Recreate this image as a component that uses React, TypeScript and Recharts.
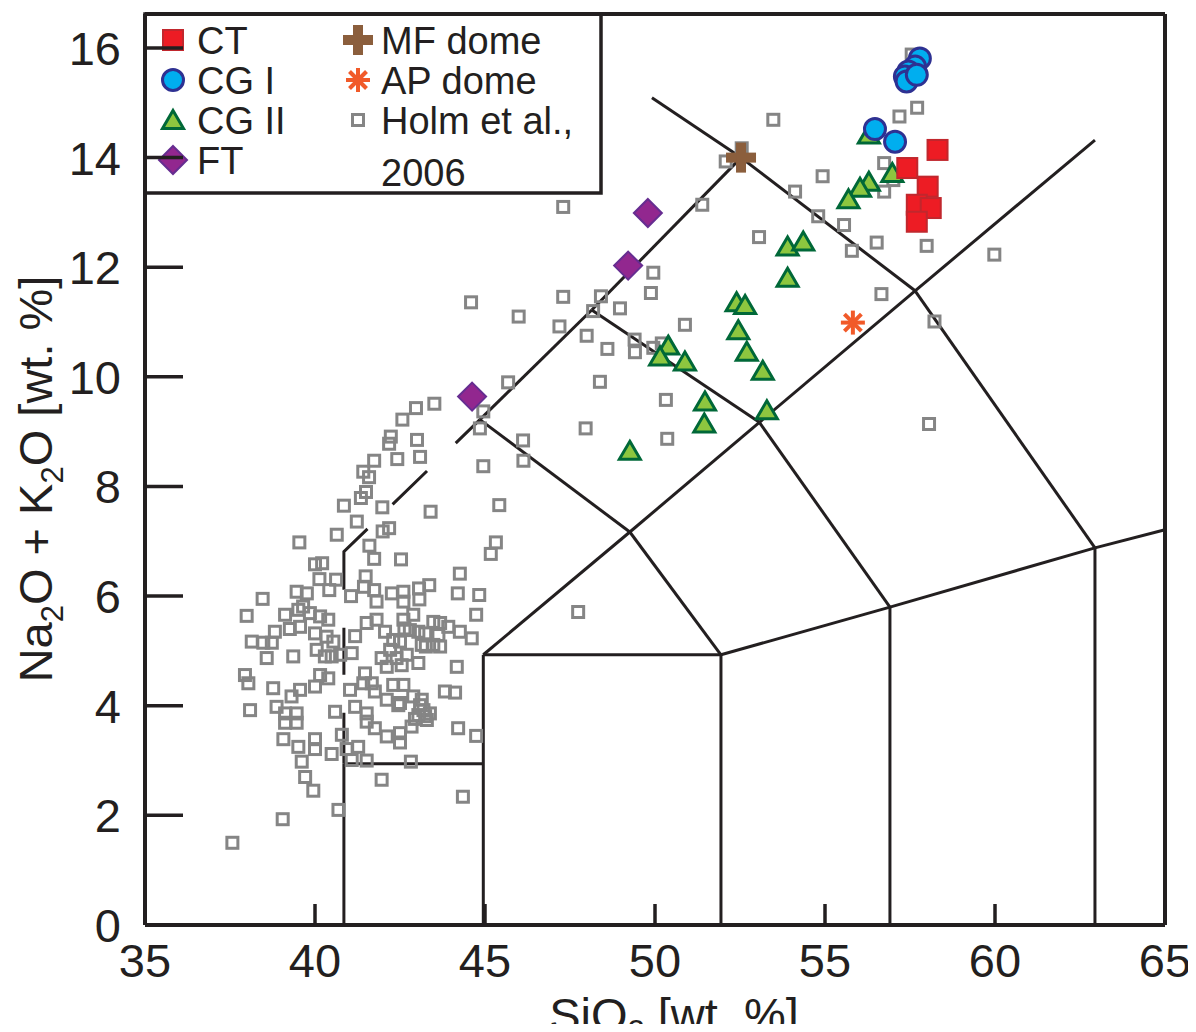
import React from 'react';
import { ScatterChart, Scatter, XAxis, YAxis, ReferenceLine, Customized } from 'recharts';

type P = [number, number];

// ---------- data ----------
const xTicks = [35, 40, 45, 50, 55, 60, 65];
const yTicks = [0, 2, 4, 6, 8, 10, 12, 14, 16];

const ctPts: P[] = [[58.31, 14.14], [57.42, 13.81], [58.02, 13.47], [57.70, 13.14], [58.11, 13.08], [57.70, 12.83]];
const cg1Pts: P[] = [[57.79, 15.81], [57.65, 15.66], [57.45, 15.57], [57.35, 15.48], [57.40, 15.39], [57.70, 15.51], [56.47, 14.52], [57.06, 14.29]];
const cg2Pts: P[] = [
  [56.29, 14.42], [56.98, 13.72], [56.29, 13.56], [56.03, 13.45], [55.69, 13.24], [53.90, 12.38], [54.36, 12.47],
  [53.90, 11.81], [52.40, 11.36], [52.65, 11.31], [52.45, 10.85], [52.70, 10.46], [53.17, 10.11], [50.39, 10.57],
  [50.15, 10.37], [50.88, 10.28], [51.47, 9.55], [51.45, 9.15], [53.29, 9.39], [49.26, 8.65],
];
const ftPts: P[] = [[49.79, 12.99], [49.21, 12.03], [44.62, 9.64]];
const mfPts: P[] = [[52.53, 14.0]];
const apPts: P[] = [[55.82, 10.99]];
const holmPts: P[] = [
  [57.55, 15.88], [57.71, 14.91], [57.19, 14.75], [53.48, 14.69], [52.55, 14.17], [52.08, 13.93], [56.74, 13.90],
  [57.01, 13.59], [54.93, 13.66], [54.12, 13.38], [56.74, 13.38], [51.39, 13.14], [47.30, 13.10], [54.80, 12.93],
  [55.56, 12.77], [53.06, 12.55], [56.52, 12.45], [57.99, 12.39], [55.79, 12.30], [59.98, 12.23], [49.95, 11.90],
  [49.88, 11.53], [48.97, 11.25], [56.66, 11.51], [50.88, 10.95], [58.22, 11.01], [49.40, 10.68], [48.60, 10.51],
  [49.41, 10.45], [49.95, 10.53], [50.20, 10.61], [50.32, 9.58], [50.36, 8.87], [58.06, 9.14], [47.30, 11.46],
  [48.41, 11.47], [48.18, 11.20], [47.19, 10.92], [47.99, 10.75], [45.99, 11.10], [44.59, 11.36], [48.38, 9.91],
  [45.68, 9.90], [44.95, 9.37], [44.85, 9.06], [47.96, 9.06], [46.12, 8.84], [44.95, 8.37], [46.13, 8.47],
  [43.51, 9.51], [42.97, 9.43], [43.00, 8.85], [43.09, 8.54], [42.57, 9.22], [42.23, 8.91], [42.18, 8.78],
  [42.42, 8.50], [41.74, 8.47], [41.42, 8.27], [41.59, 8.17], [41.50, 7.90], [41.35, 7.79], [40.85, 7.65],
  [41.98, 7.62], [41.23, 7.36], [40.64, 7.12], [42.18, 7.24], [41.99, 7.18], [41.60, 6.92], [41.74, 6.68],
  [42.53, 6.67], [39.54, 6.98], [45.42, 7.66], [45.32, 6.98], [45.17, 6.77], [43.40, 7.54], [47.74, 5.71],
  [44.35, 2.34],
  [40.00, 6.58], [40.21, 6.60], [40.13, 6.31], [40.62, 6.30], [40.42, 6.11], [41.49, 6.36], [41.44, 6.17],
  [41.74, 6.11], [41.06, 6.00], [42.26, 6.05], [42.60, 6.08], [43.06, 6.14], [43.36, 6.20], [44.26, 6.41],
  [44.20, 6.05], [44.83, 6.02], [39.46, 6.08], [39.76, 6.05], [38.46, 5.95], [41.81, 5.90], [42.60, 5.90],
  [43.07, 5.94], [44.74, 5.66], [37.99, 5.64], [39.51, 5.75], [39.12, 5.66], [39.65, 5.81], [39.85, 5.69],
  [40.15, 5.63], [40.39, 5.57], [38.82, 5.35], [39.26, 5.40], [39.56, 5.44], [40.00, 5.32], [40.34, 5.26],
  [40.54, 5.17], [38.14, 5.17], [38.48, 5.15], [38.73, 5.15], [38.58, 4.87], [39.36, 4.90], [40.05, 5.02],
  [40.29, 4.90], [40.49, 4.90], [41.08, 4.96], [41.18, 5.27], [41.52, 5.51], [41.81, 5.57], [42.06, 5.35],
  [42.30, 5.20], [42.50, 5.17], [42.21, 5.02], [41.96, 4.87], [42.40, 4.87], [42.70, 4.93], [42.55, 4.74],
  [42.11, 4.71], [43.04, 4.78], [42.60, 5.57], [42.89, 5.66], [42.79, 5.38], [43.24, 5.32], [43.48, 5.11],
  [43.68, 5.51], [43.92, 5.44], [43.63, 5.29], [43.68, 5.08], [44.26, 5.35], [44.61, 5.23], [44.17, 4.71],
  [38.04, 4.41], [37.94, 4.56], [38.77, 4.32], [39.31, 4.17], [39.56, 4.29], [40.00, 4.35], [40.15, 4.56],
  [40.39, 4.50], [41.03, 4.29], [41.47, 4.59], [41.42, 4.41], [41.67, 4.41], [41.76, 4.26], [42.30, 4.38],
  [42.60, 4.38], [42.11, 4.11], [42.50, 4.05], [42.89, 4.17], [43.14, 4.11], [43.19, 3.92], [43.82, 4.26],
  [44.12, 4.24], [38.09, 3.92], [38.87, 3.98], [39.12, 3.86], [39.46, 3.86], [40.59, 3.89], [41.18, 3.98],
  [41.52, 3.86], [39.12, 3.69], [39.46, 3.69], [41.52, 3.71], [41.76, 3.59], [42.11, 3.44], [42.45, 4.01],
  [42.50, 3.50], [42.50, 3.33], [42.84, 3.62], [43.04, 3.83], [43.29, 3.74], [43.38, 3.86], [44.21, 3.59],
  [44.74, 3.45], [39.07, 3.39], [39.51, 3.25], [40.00, 3.39], [40.00, 3.21], [40.49, 3.12], [40.79, 3.47],
  [40.93, 3.21], [41.27, 3.25], [41.08, 3.01], [41.52, 3.00], [39.61, 2.98], [39.71, 2.70], [39.95, 2.45],
  [41.96, 2.65], [42.82, 2.98], [40.69, 2.10], [39.05, 1.93], [37.57, 1.50], [40.74, 4.93], [42.63, 5.41],
  [43.04, 5.35], [43.14, 5.11], [43.48, 5.53], [43.26, 5.08], [43.09, 4.01], [43.24, 3.81], [42.94, 3.76],
];

// TAS field boundaries (solid), as pairs of end points
const boundarySegs: [P, P][] = [
  [[40.85, 0], [40.85, 2.94]],
  [[40.85, 2.94], [44.95, 2.94]],
  [[44.95, 0], [44.95, 4.93]],
  [[44.95, 4.93], [51.94, 4.93]],
  [[51.94, 0], [51.94, 4.93]],
  [[51.94, 4.93], [56.91, 5.80]],
  [[56.91, 0], [56.91, 5.80]],
  [[56.91, 5.80], [62.94, 6.88]],
  [[62.94, 0], [62.94, 6.88]],
  [[62.94, 6.88], [65, 7.21]],
  [[44.95, 4.93], [49.26, 7.17]],
  [[49.26, 7.17], [53.07, 9.17]],
  [[53.07, 9.17], [57.65, 11.57]],
  [[57.65, 11.57], [62.94, 14.32]],
  [[49.26, 7.17], [51.94, 4.93]],
  [[53.07, 9.17], [56.91, 5.80]],
  [[57.65, 11.57], [62.94, 6.88]],
  [[49.26, 7.17], [44.85, 9.22]],
  [[44.85, 9.22], [48.14, 11.22]],
  [[48.14, 11.22], [52.53, 14.0]],
  [[48.14, 11.22], [53.07, 9.17]],
  [[52.53, 14.0], [57.65, 11.57]],
  [[52.53, 14.0], [49.91, 15.09]],
];
// dashed foidite/picrobasalt boundary
const dashedPath: P[] = [[40.85, 2.94], [40.85, 6.81], [44.85, 9.22]];

const toXY = (pts: P[]) => pts.map(([x, y]) => ({ x, y }));

// ---------- style ----------
const W = 1196;
const H = 1032;
const FONT = '"Liberation Sans", Arial, Helvetica, sans-serif';
const INK = '#231f20';
const Y_MAX = 16.62;

// ---------- marker shapes ----------
const drawHolm = (cx: number, cy: number) => (
  <rect x={cx - 5.5} y={cy - 5.5} width={11} height={11} fill="none" stroke="#858585" strokeWidth={3} />
);
const drawCT = (cx: number, cy: number) => (
  <rect x={cx - 10} y={cy - 10} width={20} height={20} fill="#ed1c24" stroke="#c1272d" strokeWidth={2} />
);
const drawCG1 = (cx: number, cy: number) => (
  <circle cx={cx} cy={cy} r={10.5} fill="#00aeef" stroke="#2e3192" strokeWidth={3} />
);
const drawCG2 = (cx: number, cy: number) => (
  <path d={`M${cx},${cy - 9.5}L${cx + 10.5},${cy + 8.5}L${cx - 10.5},${cy + 8.5}Z`} fill="#8dc63f" stroke="#006838" strokeWidth={3} strokeLinejoin="miter" />
);
const drawFT = (cx: number, cy: number) => (
  <path d={`M${cx},${cy - 14}L${cx + 14},${cy}L${cx},${cy + 14}L${cx - 14},${cy}Z`} fill="#92278f" stroke="#662d91" strokeWidth={2} />
);
const drawMF = (cx: number, cy: number) => (
  <g fill="#8b5e3c">
    <rect x={cx - 15} y={cy - 5} width={30} height={10} />
    <rect x={cx - 5} y={cy - 15} width={10} height={30} />
  </g>
);
const drawAP = (cx: number, cy: number) => (
  <g stroke="#f15a29" strokeWidth={4} strokeLinecap="butt">
    <line x1={cx - 12} y1={cy} x2={cx + 12} y2={cy} />
    <line x1={cx} y1={cy - 12} x2={cx} y2={cy + 12} />
    <line x1={cx - 8.5} y1={cy - 8.5} x2={cx + 8.5} y2={cy + 8.5} />
    <line x1={cx - 8.5} y1={cy + 8.5} x2={cx + 8.5} y2={cy - 8.5} />
  </g>
);

const shapeOf = (fn: (cx: number, cy: number) => React.ReactElement) => (props: any) => {
  if (props.cx == null || props.cy == null) return <g />;
  return fn(props.cx, props.cy);
};

// ---------- ticks ----------
const XTick = (props: any) => {
  const { x, y, payload } = props;
  return (
    <g>
      <line x1={x} x2={x} y1={y} y2={y - 21} stroke={INK} strokeWidth={3.5} />
      <text x={x} y={y + 52} textAnchor="middle" fontSize={47} fontFamily={FONT} fill={INK}>
        {payload.value}
      </text>
    </g>
  );
};
const YTick = (props: any) => {
  const { x, y, payload } = props;
  return (
    <g>
      <line x1={x} x2={x + 38} y1={y} y2={y} stroke={INK} strokeWidth={3.5} />
      <text x={x - 24} y={y + 17} textAnchor="end" fontSize={47} fontFamily={FONT} fill={INK}>
        {payload.value}
      </text>
    </g>
  );
};

// ---------- legend + axis titles ----------
const legendLeft: { label: string; draw: (cx: number, cy: number) => React.ReactElement }[] = [
  { label: 'CT', draw: drawCT },
  { label: 'CG I', draw: drawCG1 },
  { label: 'CG II', draw: drawCG2 },
  { label: 'FT', draw: drawFT },
];
const legendRight: { label: string; draw: (cx: number, cy: number) => React.ReactElement }[] = [
  { label: 'MF dome', draw: drawMF },
  { label: 'AP dome', draw: drawAP },
  { label: 'Holm et al.,', draw: drawHolm },
];

const Overlay = () => {
  const rowY = [40, 80, 120, 160];
  const fs = 38;
  return (
    <g>
      <rect x={145} y={14} width={456} height={179} fill="#ffffff" stroke={INK} strokeWidth={3.5} />
      {legendLeft.map((it, i) => (
        <g key={it.label}>
          {it.draw(173, rowY[i])}
          <text x={197} y={rowY[i] + 13.5} fontSize={fs} fontFamily={FONT} fill={INK}>{it.label}</text>
        </g>
      ))}
      {legendRight.map((it, i) => (
        <g key={it.label}>
          {it.draw(358, rowY[i])}
          <text x={381} y={rowY[i] + 13.5} fontSize={fs} fontFamily={FONT} fill={INK}>{it.label}</text>
        </g>
      ))}
      <text x={381} y={186} fontSize={fs} fontFamily={FONT} fill={INK}>2006</text>

      <text
        x={52}
        y={479}
        transform="rotate(-90 52 479)"
        textAnchor="middle"
        fontSize={47}
        fontFamily={FONT}
        fill={INK}
      >
        Na<tspan fontSize={31} dy={11}>2</tspan>
        <tspan dy={-11}>O + K</tspan>
        <tspan fontSize={31} dy={11}>2</tspan>
        <tspan dy={-11}>O [wt. %]</tspan>
      </text>
      <text x={674} y={1031} textAnchor="middle" fontSize={47} fontFamily={FONT} fill={INK}>
        SiO<tspan fontSize={31} dy={11}>2</tspan>
        <tspan dy={-11}> [wt. %]</tspan>
      </text>
    </g>
  );
};

export default function App() {
  return (
    <div style={{ margin: -8, width: W, height: H, overflow: 'hidden', background: '#fff' }}>
      <ScatterChart width={W} height={H} margin={{ top: 13, right: 30, bottom: 106, left: 144 }}>
        <XAxis
          type="number"
          dataKey="x"
          domain={[35, 65]}
          ticks={xTicks}
          interval={0}
          height={1}
          tickSize={0}
          tickMargin={0}
          tickLine={false}
          axisLine={{ stroke: INK, strokeWidth: 4 }}
          tick={<XTick />}
          allowDataOverflow
        />
        <YAxis
          type="number"
          dataKey="y"
          domain={[0, Y_MAX]}
          ticks={yTicks}
          interval={0}
          width={1}
          tickSize={0}
          tickMargin={0}
          tickLine={false}
          axisLine={{ stroke: INK, strokeWidth: 4 }}
          tick={<YTick />}
          allowDataOverflow
        />
        <XAxis
          xAxisId="top"
          orientation="top"
          type="number"
          domain={[35, 65]}
          height={1}
          tick={false}
          tickLine={false}
          axisLine={{ stroke: INK, strokeWidth: 4 }}
        />
        <YAxis
          yAxisId="right"
          orientation="right"
          type="number"
          domain={[0, Y_MAX]}
          width={1}
          tick={false}
          tickLine={false}
          axisLine={{ stroke: INK, strokeWidth: 4 }}
        />
        {boundarySegs.map((s, i) => (
          <ReferenceLine
            key={`b${i}`}
            segment={[{ x: s[0][0], y: s[0][1] }, { x: s[1][0], y: s[1][1] }]}
            stroke={INK}
            strokeWidth={3}
            ifOverflow="visible"
          />
        ))}
        <Scatter
          data={toXY(dashedPath)}
          line={{ stroke: INK, strokeWidth: 3, strokeDasharray: '51 38 47 38 71 35 48 40 80' }}
          lineType="joint"
          shape={() => <g />}
          isAnimationActive={false}
        />
        <Scatter data={toXY(holmPts)} shape={shapeOf(drawHolm)} isAnimationActive={false} />
        <Scatter data={toXY(apPts)} shape={shapeOf(drawAP)} isAnimationActive={false} />
        <Scatter data={toXY(ftPts)} shape={shapeOf(drawFT)} isAnimationActive={false} />
        <Scatter data={toXY(cg2Pts)} shape={shapeOf(drawCG2)} isAnimationActive={false} />
        <Scatter data={toXY(cg1Pts)} shape={shapeOf(drawCG1)} isAnimationActive={false} />
        <Scatter data={toXY(ctPts)} shape={shapeOf(drawCT)} isAnimationActive={false} />
        <Scatter data={toXY(mfPts)} shape={shapeOf(drawMF)} isAnimationActive={false} />
        <Customized component={<Overlay />} />
      </ScatterChart>
    </div>
  );
}
